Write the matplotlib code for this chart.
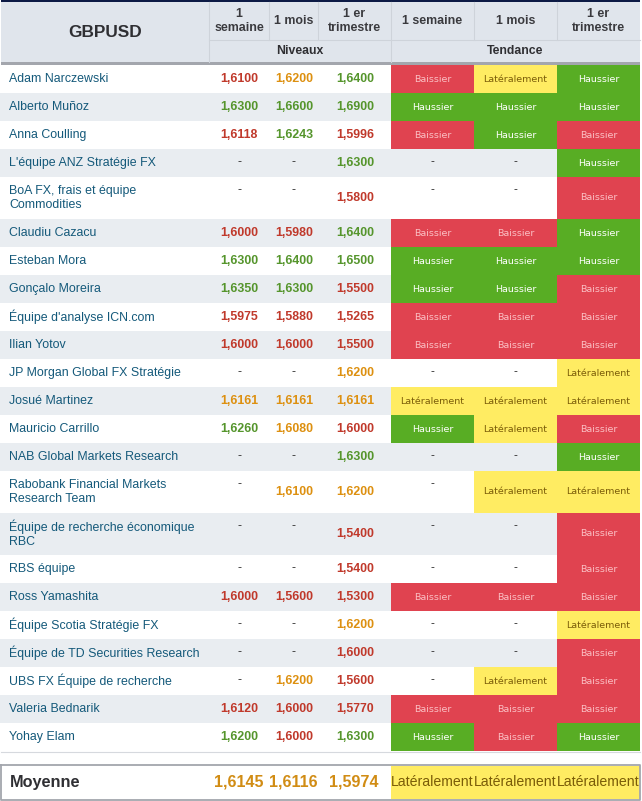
import matplotlib
matplotlib.use('Agg')
import matplotlib.pyplot as plt
import numpy as np
from matplotlib.patches import Rectangle

plt.rcParams['font.family'] = ['Liberation Sans', 'DejaVu Sans']

pair = 'GBPUSD'
horizons = ['1\nsemaine', '1 mois', '1 er\ntrimestre']
trend_horizons = ['1 semaine', '1 mois', '1 er\ntrimestre']

names = ['Adam Narczewski', 'Alberto Muñoz', 'Anna Coulling', "L'équipe ANZ Stratégie FX",
         'BoA FX, frais et équipe\nCommodities', 'Claudiu Cazacu', 'Esteban Mora', 'Gonçalo Moreira',
         "Équipe d'analyse ICN.com", 'Ilian Yotov', 'JP Morgan Global FX Stratégie', 'Josué Martinez',
         'Mauricio Carrillo', 'NAB Global Markets Research', 'Rabobank Financial Markets\nResearch Team',
         'Équipe de recherche économique\nRBC', 'RBS équipe', 'Ross Yamashita', 'Équipe Scotia Stratégie FX',
         'Équipe de TD Securities Research', 'UBS FX Équipe de recherche', 'Valeria Bednarik', 'Yohay Elam']

week = [1.6100, 1.6300, 1.6118, None, None, 1.6000, 1.6300, 1.6350, 1.5975, 1.6000, None, 1.6161,
        1.6260, None, None, None, None, 1.6000, None, None, None, 1.6120, 1.6200]
month = [1.6200, 1.6600, 1.6243, None, None, 1.5980, 1.6400, 1.6300, 1.5880, 1.6000, None, 1.6161,
         1.6080, None, 1.6100, None, None, 1.5600, None, None, 1.6200, 1.6000, 1.6000]
quarter = [1.6400, 1.6900, 1.5996, 1.6300, 1.5800, 1.6400, 1.6500, 1.5500, 1.5265, 1.5500, 1.6200, 1.6161,
           1.6000, 1.6300, 1.6200, 1.5400, 1.5400, 1.5300, 1.6200, 1.6000, 1.5600, 1.5770, 1.6300]

# H = Haussier, B = Baissier, L = Latéralement, - = pas de prévision
week_trend = ['B', 'H', 'B', '-', '-', 'B', 'H', 'H', 'B', 'B', '-', 'L', 'H', '-', '-', '-', '-', 'B', '-', '-', '-', 'B', 'H']
month_trend = ['L', 'H', 'H', '-', '-', 'B', 'H', 'H', 'B', 'B', '-', 'L', 'L', '-', 'L', '-', '-', 'B', '-', '-', 'L', 'B', 'B']
quarter_trend = ['H', 'H', 'B', 'H', 'B', 'H', 'H', 'B', 'B', 'B', 'L', 'L', 'B', 'H', 'L', 'B', 'B', 'B', 'L', 'B', 'B', 'B', 'H']

average = [1.6145, 1.6116, 1.5974]
average_trend = ['L', 'L', 'L']

trend_words = {'H': 'Haussier', 'B': 'Baissier', 'L': 'Latéralement'}
fill_colors = {'H': '#58ad24', 'B': '#e04350', 'L': '#ffec62'}
text_colors = {'H': '#ffffff', 'B': '#fbc0c4', 'L': '#7a5c08', '-': '#333333'}
level_colors = {'H': '#55952c', 'B': '#c0392b', 'L': '#dd9010', '-': '#333333'}
HEADER = '#e0e5ec'
STRIPE = '#e9edf1'
GRID = '#ced3da'
GREY = '#a3a6ad'
DARK = '#2f2f33'
NAME = '#14597a'

# pixels
col_edges = [1, 209, 269, 318, 391, 474, 557, 640]
row_top = 65
row_heights = [42 if '\n' in n else 28 for n in names]


def fmt(v):
    return '-' if v is None else f'{v:.4f}'.replace('.', ',')


def box(ax, x0, y0, x1, y1, color, z=1):
    ax.add_patch(Rectangle((x0, y0), x1 - x0, y1 - y0, fc=color, ec='none', zorder=z))


fig = plt.figure(figsize=(6.42, 8.01), dpi=100)
ax = fig.add_axes([0, 0, 1, 1])
ax.set_xlim(0, 642)
ax.set_ylim(801, 0)
ax.axis('off')

# en-tête
box(ax, 1, 0, 640, 2, '#0c1a45')
box(ax, 1, 2, 640, 62, HEADER)
box(ax, 1, 62, 640, 65, GREY)
for x in col_edges[1:-1]:
    ax.plot([x, x], [2, 40 if x not in (209, 391) else 62], color=GRID, lw=0.8, zorder=2)
ax.plot([209, 640], [40, 40], color=GRID, lw=0.8, zorder=2)
ax.text(105.5, 32.5, pair, ha='center', va='center', fontsize=12.4, fontweight='bold', color=DARK)
for i, label in enumerate(horizons):
    ax.text((col_edges[i + 1] + col_edges[i + 2]) / 2, 21, label, ha='center', va='center',
            fontsize=8.9, fontweight='bold', color='#3a3a3e', linespacing=1.3)
for i, label in enumerate(trend_horizons):
    ax.text((col_edges[i + 4] + col_edges[i + 5]) / 2, 21, label, ha='center', va='center',
            fontsize=8.9, fontweight='bold', color='#3a3a3e', linespacing=1.3)
ax.text(300, 51, 'Niveaux', ha='center', va='center', fontsize=8.8, fontweight='bold', color=DARK)
ax.text(515.5, 51, 'Tendance', ha='center', va='center', fontsize=8.8, fontweight='bold', color=DARK)

# lignes du tableau
tops = row_top + np.concatenate([[0], np.cumsum(row_heights)[:-1]])
levels = [week, month, quarter]
trends = [week_trend, month_trend, quarter_trend]
level_x = [239, 294, 355]
for r, name in enumerate(names):
    y0 = tops[r]
    y1 = y0 + row_heights[r]
    mid = (y0 + y1) / 2
    # le tiret reste en haut dans les lignes hautes
    dash_y = mid - (8 if row_heights[r] > 28 else 1)
    if r % 2 == 1:
        box(ax, 0, y0, 640, y1, STRIPE)
    ax.text(9, mid, name, ha='left', va='center', fontsize=8.95, color=NAME, linespacing=1.2)
    for c in range(3):
        trend = trends[c][r]
        v = levels[c][r]
        ax.text(level_x[c], mid if v is not None else dash_y, fmt(v), ha='center', va='center',
                fontsize=8.9, fontweight='bold' if v is not None else 'normal', color=level_colors[trend])
        x0, x1 = col_edges[c + 4], col_edges[c + 5]
        if trend == '-':
            ax.text((x0 + x1) / 2, dash_y, '-', ha='center', va='center', fontsize=8.5, color='#333333')
        else:
            box(ax, x0, y0, x1, y1, fill_colors[trend], z=2)
            ax.text((x0 + x1) / 2, mid, trend_words[trend], ha='center', va='center', fontsize=6.8,
                    family=['DejaVu Sans'], color=text_colors[trend], zorder=3)

bottom = tops[-1] + row_heights[-1]
ax.plot([1, 640], [bottom + 0.5, bottom + 0.5], color='#d6d9de', lw=0.8, zorder=2)

# moyenne
box(ax, 1, 765, 640, 799, '#ffffff')
for x, val in zip([239, 293, 354], average):
    ax.text(x, 782, fmt(val), ha='center', va='center', fontsize=11.6, color='#d18c14', fontweight='bold')
ax.text(10, 782, 'Moyenne', ha='left', va='center', fontsize=11.7, fontweight='bold', color=DARK)
for c, trend in enumerate(average_trend):
    x0, x1 = col_edges[c + 4], col_edges[c + 5]
    box(ax, x0, 766, x1, 799, fill_colors[trend], z=2)
    ax.text((x0 + x1) / 2, 782, trend_words[trend], ha='center', va='center', fontsize=10.2,
            color=text_colors[trend], zorder=3)
ax.plot([1, 640, 640, 1, 1], [765, 765, 799.5, 799.5, 765], color=GREY, lw=1.3, zorder=4)

fig.savefig('out.png', dpi=100)
